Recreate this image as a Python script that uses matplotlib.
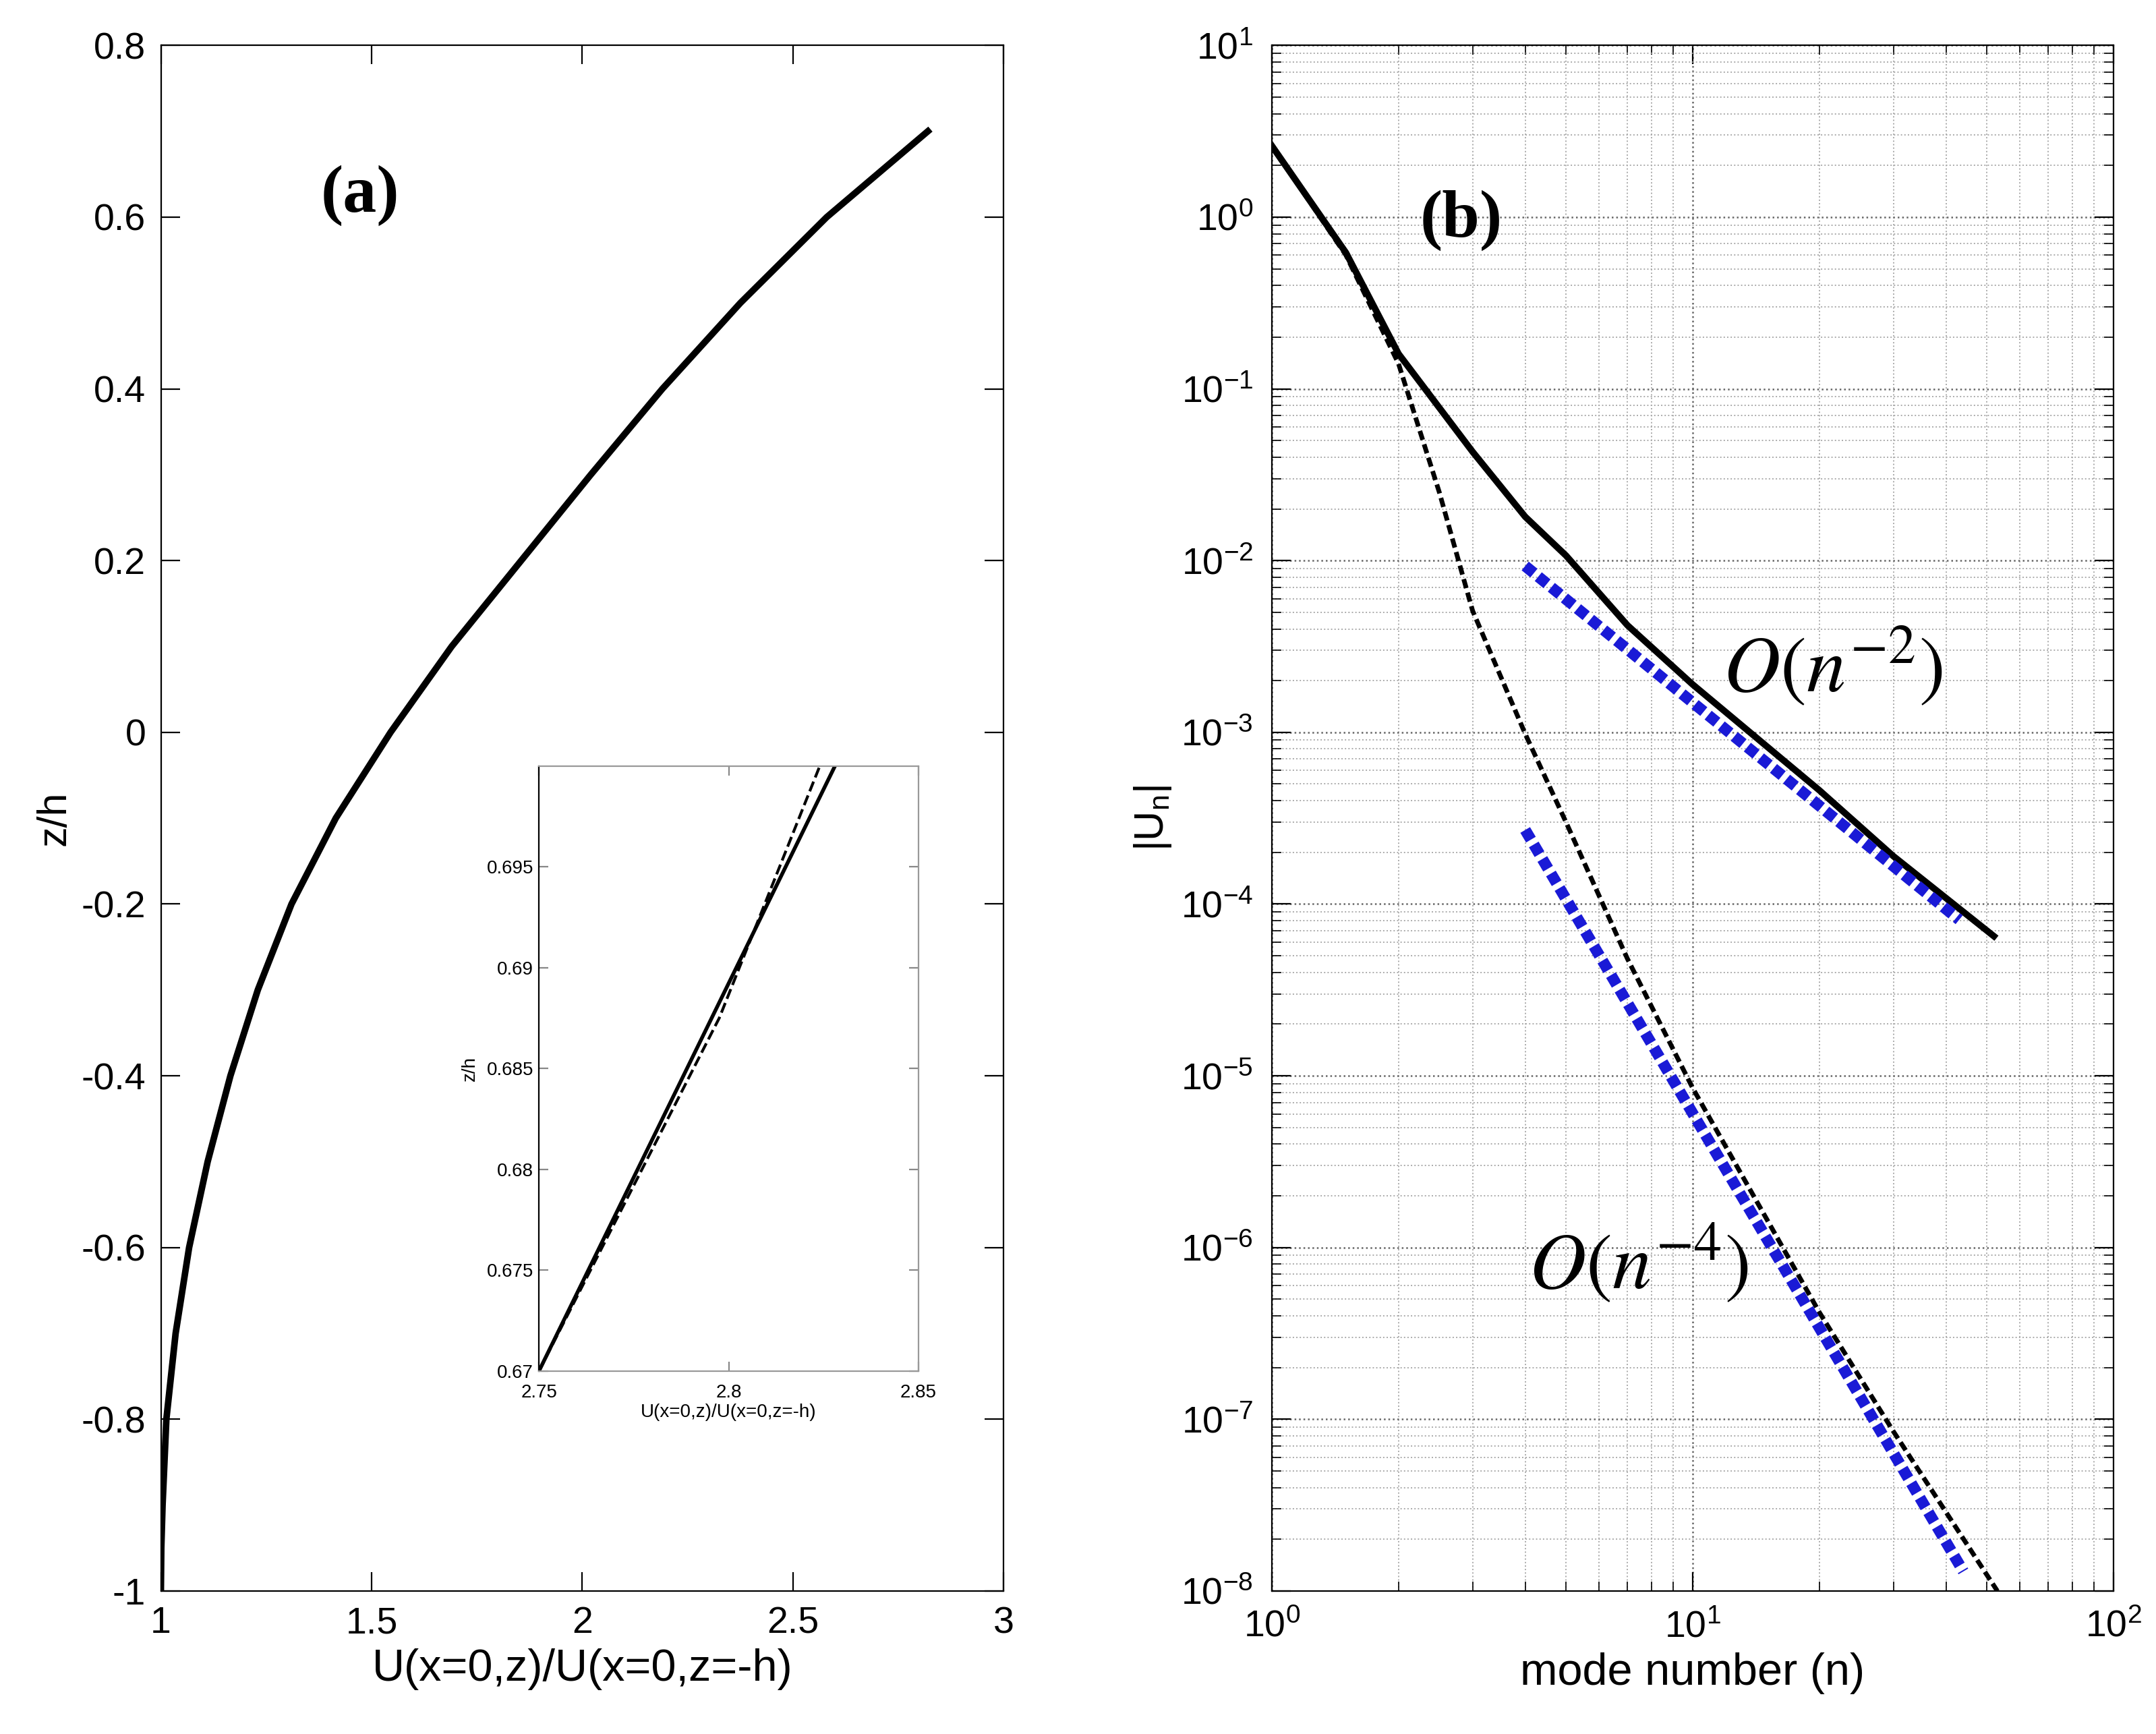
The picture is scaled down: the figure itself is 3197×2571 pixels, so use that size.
import numpy as np
import matplotlib.pyplot as plt
from matplotlib.ticker import LogLocator, NullFormatter

# panel (a): velocity profile
z_a = [-1.0, -0.95, -0.9, -0.8, -0.7, -0.6, -0.5, -0.4, -0.3, -0.2, -0.1,
       0.0, 0.1, 0.2, 0.3, 0.4, 0.5, 0.6, 0.7]
u_a = [1.0, 1.001, 1.004, 1.013, 1.035, 1.067, 1.111, 1.165, 1.230, 1.310, 1.415,
       1.545, 1.69, 1.855, 2.02, 2.19, 2.375, 2.58, 2.82]

# inset (zoom near the top)
u_in_solid = [2.75, 2.828]
z_in_solid = [0.67, 0.70]
u_in_dash = [2.75, 2.7975, 2.824]
z_in_dash = [0.67, 0.6875, 0.70]

# panel (b): modal amplitudes
n_solid = [1, 1.5, 2, 3, 4, 5, 7, 10, 20, 30, 52]
U_solid = [2.6, 0.62, 0.16, 0.043, 0.018, 0.0107, 0.0042, 0.0019, 4.6e-4, 1.9e-4, 6.5e-5]
n_dash = [1, 1.5, 2, 2.5, 3, 4, 5, 7, 10, 20, 30, 53]
U_dash = [2.6, 0.6, 0.14, 0.025, 0.0051, 9.8e-4, 3e-4, 4.8e-5, 8.5e-6, 4.2e-7, 8.5e-8, 1.0e-8]
n_fit2 = [4, 43]
U_fit2 = [9.3e-3, 8.1e-5]
n_fit4 = [4, 44]
U_fit4 = [2.7e-4, 1.3e-8]

plt.rcParams['font.family'] = ['Liberation Sans', 'DejaVu Sans']
plt.rcParams['mathtext.fontset'] = 'stix'
fig = plt.figure(figsize=(15.985, 12.855), dpi=200)
W, H = 1568.0, 1261.0

def box(x0, y0, x1, y1):
    return [x0 / W, 1 - y1 / H, (x1 - x0) / W, (y1 - y0) / H]

ax1 = fig.add_axes(box(117, 33, 730, 1157))
ax1.plot(u_a, z_a, 'k-', lw=3.5)
ax1.set_xlim(1, 3)
ax1.set_ylim(-1, 0.8)
ax1.set_xticks([1, 1.5, 2, 2.5, 3])
ax1.set_xticklabels(['1', '1.5', '2', '2.5', '3'])
ax1.set_yticks(np.arange(-1, 0.81, 0.2))
ax1.set_yticklabels(['-1', '-0.8', '-0.6', '-0.4', '-0.2', '0', '0.2', '0.4', '0.6', '0.8'])
ax1.tick_params(labelsize=20, direction='in', length=10, top=True, right=True, pad=8)
ax1.set_xlabel('U(x=0,z)/U(x=0,z=-h)', fontsize=24)
ax1.set_ylabel('z/h', fontsize=22)
ax1.text(1.38, 0.625, '(a)', fontsize=36, fontweight='bold', family='Liberation Serif', va='center')

ax_in = fig.add_axes(box(392, 557, 668, 997))
ax_in.plot(u_in_solid, z_in_solid, 'k-', lw=2)
ax_in.plot(u_in_dash, z_in_dash, 'k--', lw=1.5)
ax_in.set_xlim(2.75, 2.85)
ax_in.set_ylim(0.67, 0.700)
ax_in.set_xticks([2.75, 2.8, 2.85])
ax_in.set_xticklabels(['2.75', '2.8', '2.85'])
ax_in.set_yticks([0.67, 0.675, 0.68, 0.685, 0.69, 0.695])
ax_in.set_yticklabels(['0.67', '0.675', '0.68', '0.685', '0.69', '0.695'])
ax_in.tick_params(labelsize=10, direction='in', length=5, top=True, right=True, color='#888888', pad=3)
ax_in.tick_params(axis='x', pad=7)
ax_in.set_xlabel('U(x=0,z)/U(x=0,z=-h)', fontsize=10, labelpad=1)
ax_in.set_ylabel('z/h', fontsize=10)
for s in ax_in.spines.values():
    s.set_color('#999999')
ax_in.spines['left'].set_color('black')

ax2 = fig.add_axes(box(925, 33, 1537, 1157))
ax2.loglog(n_solid, U_solid, 'k-', lw=3.5)
ax2.loglog(n_dash, U_dash, 'k--', lw=2.5, dashes=(2, 1))
ax2.loglog(n_fit2, U_fit2, '--', color='#1a1ad6', lw=6, dashes=(1, 0.5))
ax2.loglog(n_fit4, U_fit4, '--', color='#1a1ad6', lw=6, dashes=(1, 0.5))
ax2.set_xlim(1, 100)
ax2.set_ylim(1e-8, 10)
ax2.set_yticks([10.0 ** k for k in range(-8, 2)])
ax2.yaxis.set_minor_locator(LogLocator(base=10, subs=np.arange(2, 10), numticks=100))
ax2.yaxis.set_minor_formatter(NullFormatter())
ax2.grid(True, which='major', ls=':', color='#666666', lw=0.9)
ax2.grid(True, which='minor', ls=':', color='#aaaaaa', lw=0.7)
ax2.tick_params(which='both', labelsize=20, direction='in', top=True, right=True)
ax2.tick_params(which='major', length=10, pad=10)
ax2.tick_params(which='minor', length=5)
ax2.set_xlabel('mode number (n)', fontsize=24)
ax2.set_ylabel(r'$\mathregular{|U_n|}$', fontsize=22)
ax2.text(2.25, 0.96, '(b)', fontsize=36, fontweight='bold', family='Liberation Serif', va='center')
ax2.text(11.8, 2.4e-3, r'$O\left(n^{-2}\right)$', fontsize=42, va='center')
ax2.text(4.08, 8e-7, r'$O\left(n^{-4}\right)$', fontsize=42, va='center')

fig.savefig('out.png', dpi=200)
